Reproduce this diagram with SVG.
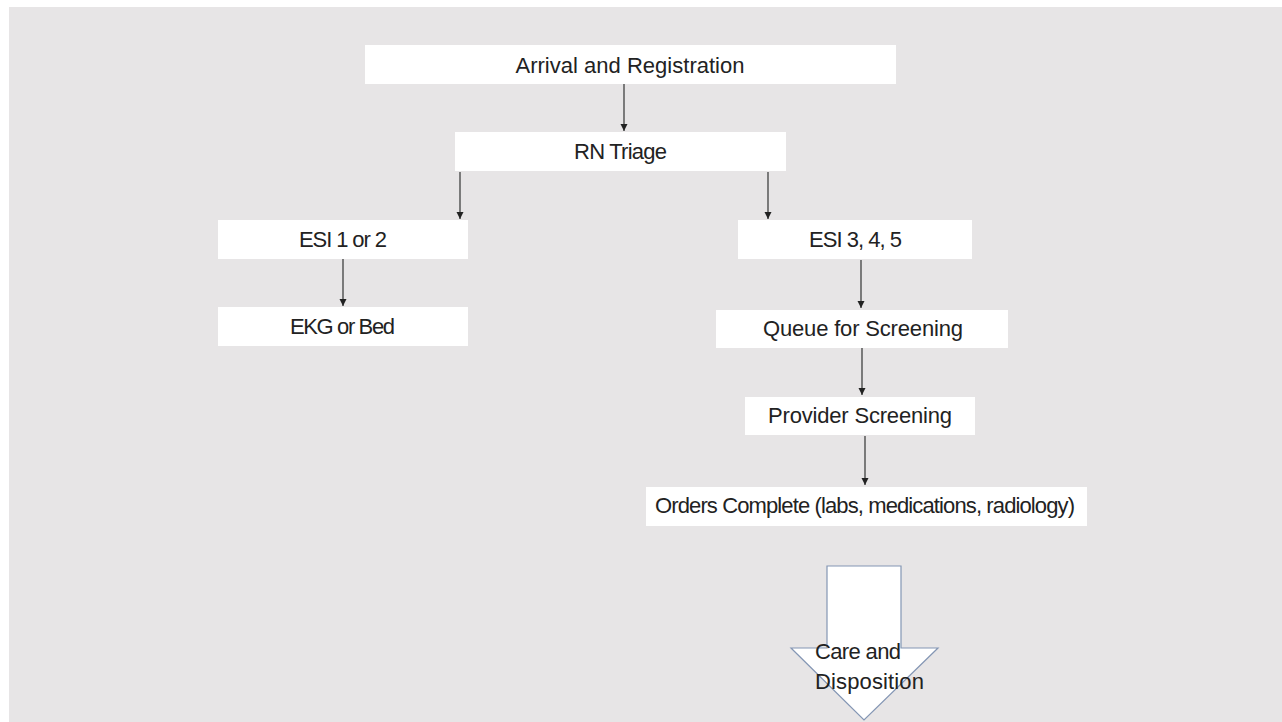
<svg xmlns="http://www.w3.org/2000/svg" width="1282" height="722" viewBox="0 0 1282 722">
<style>
.box{fill:#ffffff;stroke:none}
.t{font-family:"Liberation Sans",Arial,sans-serif;font-size:22px;fill:#222222;text-anchor:middle}
.c{stroke:#333333;stroke-width:1.2;fill:none}
</style>
<defs>
<marker id="ah" markerUnits="userSpaceOnUse" markerWidth="8" markerHeight="8" refX="7" refY="3.5" orient="auto">
<path d="M0,0 L7,3.5 L0,7 z" fill="#222222"/>
</marker>
</defs>
<rect x="0" y="0" width="1282" height="722" fill="#ffffff"/>
<rect x="9" y="7" width="1273" height="715" fill="#e7e5e6"/>
<g id="connectors">
<line class="c" x1="624" y1="84" x2="624" y2="131" marker-end="url(#ah)"/>
<line class="c" x1="460" y1="172" x2="460" y2="219" marker-end="url(#ah)"/>
<line class="c" x1="768" y1="172" x2="768" y2="219" marker-end="url(#ah)"/>
<line class="c" x1="343" y1="259" x2="343" y2="306" marker-end="url(#ah)"/>
<line class="c" x1="861" y1="260" x2="861" y2="308" marker-end="url(#ah)"/>
<line class="c" x1="862" y1="348" x2="862" y2="395" marker-end="url(#ah)"/>
<line class="c" x1="865" y1="436" x2="865" y2="485" marker-end="url(#ah)"/>
</g>
<g id="arrival"><rect class="box" x="365" y="45" width="531" height="39"/><text class="t" x="630" y="73" textLength="229">Arrival and Registration</text></g>
<g id="rn-triage"><rect class="box" x="455" y="132" width="331" height="39"/><text class="t" x="620.5" y="159" textLength="93">RN Triage</text></g>
<g id="esi12"><rect class="box" x="218" y="220" width="250" height="39"/><text class="t" x="343" y="247" textLength="88">ESI 1 or 2</text></g>
<g id="ekg"><rect class="box" x="218" y="307" width="250" height="39"/><text class="t" x="342.5" y="334" textLength="105">EKG or Bed</text></g>
<g id="esi345"><rect class="box" x="738" y="220" width="234" height="39"/><text class="t" x="855.5" y="247" textLength="93">ESI 3, 4, 5</text></g>
<g id="queue"><rect class="box" x="716" y="310" width="292" height="38"/><text class="t" x="863" y="336" textLength="200">Queue for Screening</text></g>
<g id="provider"><rect class="box" x="745" y="397" width="230" height="38"/><text class="t" x="860" y="423" textLength="184">Provider Screening</text></g>
<g id="orders"><rect class="box" x="646" y="487" width="441" height="39"/><text class="t" x="865" y="513" textLength="420">Orders Complete (labs, medications, radiology)</text></g>
<g id="care">
<polygon points="827,566 901,566 901,648 938,648 864,720 791,648 827,648" fill="#ffffff" stroke="#8496b4" stroke-width="1.2"/>
<text class="t" x="815" y="659" style="text-anchor:start" textLength="86">Care and</text>
<text class="t" x="815" y="689" style="text-anchor:start" textLength="109">Disposition</text>
</g>
</svg>
